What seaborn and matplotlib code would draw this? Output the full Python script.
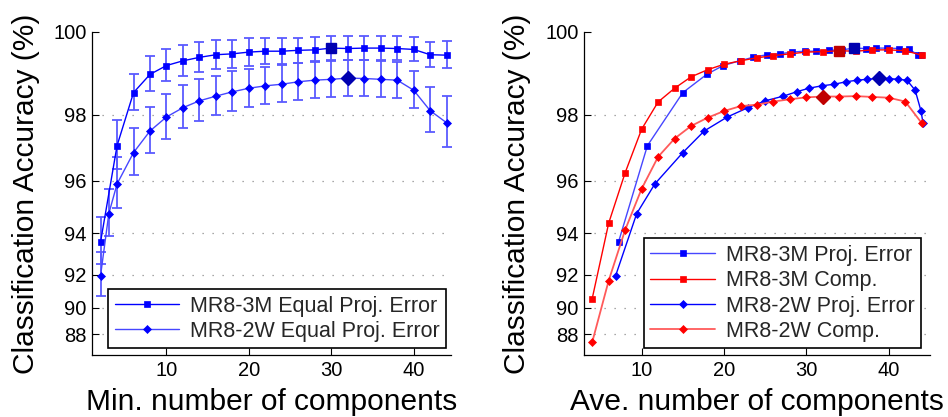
import numpy as np
import pandas as pd
import matplotlib
matplotlib.use("Agg")
import matplotlib.pyplot as plt
import seaborn as sns

# ---------------- data ----------------
# left panel: accuracy vs. minimum number of components (equal projection error)
min_comp_3m = [2, 4, 6, 8, 10, 12, 14, 16, 18, 20, 22, 24, 26, 28, 30, 32, 34, 36, 38, 40, 42, 44]
acc_3m = [93.62, 97.12, 98.58, 99.03, 99.24, 99.35, 99.43, 99.49, 99.51, 99.55, 99.57,
          99.57, 99.59, 99.60, 99.64, 99.63, 99.64, 99.64, 99.63, 99.61, 99.49, 99.48]
err_3m = [1.06, 0.74, 0.46, 0.42, 0.38, 0.36, 0.34, 0.33, 0.32, 0.31, 0.30,
          0.29, 0.28, 0.28, 0.27, 0.27, 0.27, 0.27, 0.27, 0.27, 0.29, 0.31]

min_comp_2w = [2, 3, 4, 6, 8, 10, 12, 14, 16, 18, 20, 22, 24, 26, 28, 30, 32, 34, 36, 38, 40, 42, 44]
acc_2w = [91.96, 94.80, 95.89, 96.91, 97.55, 97.94, 98.19, 98.37, 98.49, 98.60, 98.69, 98.75,
          98.79, 98.85, 98.89, 98.91, 98.94, 98.93, 98.91, 98.89, 98.64, 98.11, 97.78]
err_2w = [1.20, 0.93, 0.89, 0.73, 0.65, 0.61, 0.57, 0.54, 0.51, 0.50, 0.47, 0.46,
          0.46, 0.45, 0.45, 0.44, 0.44, 0.44, 0.44, 0.44, 0.47, 0.60, 0.71]

# right panel: accuracy vs. average number of components
avg_comp_3m_proj = [7.2, 10.7, 15.0, 17.9, 19.9, 21.9, 23.5, 25.2, 26.8, 28.2, 29.8,
                    31.2, 32.8, 34.3, 35.8, 37.2, 38.5, 39.8, 41.2, 42.5, 43.5, 43.95]
avg_comp_2w_proj = [6.85, 9.4, 11.6, 15.0, 17.6, 20.4, 22.9, 25.0, 27.2, 28.8, 30.3, 31.85,
                    33.4, 34.8, 36.2, 37.4, 38.8, 40.0, 41.1, 42.2, 43.2, 43.9, 44.15]
comp_x = [4, 6, 8, 10, 12, 14, 16, 18, 20, 22, 24, 26, 28, 30, 32, 34, 36, 38, 40, 42, 44]
acc_3m_comp = [90.61, 94.42, 96.27, 97.60, 98.34, 98.69, 98.97, 99.14, 99.27, 99.35, 99.42,
               99.47, 99.51, 99.55, 99.56, 99.58, 99.57, 99.60, 99.60, 99.58, 99.48]
acc_2w_comp = [87.28, 91.68, 94.14, 95.72, 96.78, 97.33, 97.69, 97.92, 98.10, 98.23, 98.27,
               98.35, 98.41, 98.46, 98.48, 98.48, 98.49, 98.47, 98.45, 98.35, 97.77]

# highlighted (selected) settings
best_3m_min = 30
best_2w_min = 32
best_3m_comp = 34
best_2w_comp = 32

y_ticks = [88, 90, 92, 94, 96, 98, 100]
x_ticks = [10, 20, 30, 40]

# ---------------- style ----------------
sns.set_theme(style="ticks")
plt.rcParams['font.family'] = ['Liberation Sans', 'DejaVu Sans']

BLUE = '#0000ff'
BLUE_L = '#4646ff'
RED = '#ff0000'
RED_L = '#ff5a5a'
DBLUE = '#0000b0'
DRED = '#c00000'
ERR = '#5a5aff'


def fwd(y):
    return 10.0 ** (np.asarray(y, dtype=float) / 20.0)


def inv(v):
    return 20.0 * np.log10(np.clip(np.asarray(v, dtype=float), 1e-12, None))


fig = plt.figure(figsize=(9.48, 4.17), dpi=100)
axL = fig.add_axes([0.0974, 0.1487, 0.3781, 0.7753])
axR = fig.add_axes([0.6160, 0.1487, 0.3650, 0.7753])

ms_sq = 4.4
ms_d = 4.5
big_sq = 7.4
big_d = 7.2

# ---------- left panel ----------
axL.errorbar(min_comp_3m, acc_3m, yerr=err_3m, fmt='none', ecolor=ERR,
             elinewidth=1.3, capsize=3.8, capthick=1.3, zorder=1)
axL.errorbar(min_comp_2w, acc_2w, yerr=err_2w, fmt='none', ecolor=ERR,
             elinewidth=1.3, capsize=3.8, capthick=1.3, zorder=1)
sns.lineplot(x=min_comp_3m, y=acc_3m, ax=axL, color=BLUE, marker='s', markersize=ms_sq,
             markeredgecolor=BLUE, markeredgewidth=0.5, linewidth=1.0, sort=False,
             errorbar=None, label='MR8-3M Equal Proj. Error', zorder=3)
sns.lineplot(x=min_comp_2w, y=acc_2w, ax=axL, color=BLUE_L, marker='D', markersize=ms_d,
             markerfacecolor=BLUE, markeredgecolor=BLUE, markeredgewidth=0.5, linewidth=1.0,
             sort=False, errorbar=None, label='MR8-2W Equal Proj. Error', zorder=3)
i3 = min_comp_3m.index(best_3m_min)
i2 = min_comp_2w.index(best_2w_min)
axL.plot([min_comp_3m[i3]], [acc_3m[i3]], marker='s', markersize=big_sq, color=DBLUE,
         linestyle='none', zorder=4)
axL.plot([min_comp_2w[i2]], [acc_2w[i2]], marker='D', markersize=big_d, color=DBLUE,
         linestyle='none', zorder=4)
axL.set_xlim(1, 44.5)

# ---------- right panel ----------
sns.lineplot(x=avg_comp_3m_proj, y=acc_3m, ax=axR, color=BLUE_L, marker='s', markersize=ms_sq,
             markerfacecolor=BLUE, markeredgecolor=BLUE, markeredgewidth=0.5, linewidth=1.0,
             sort=False, errorbar=None, label='MR8-3M Proj. Error', zorder=3)
sns.lineplot(x=comp_x, y=acc_3m_comp, ax=axR, color=RED, marker='s', markersize=ms_sq + 0.4,
             markeredgecolor=RED, markeredgewidth=0.5, linewidth=1.0, sort=False,
             errorbar=None, label='MR8-3M Comp.', zorder=3)
sns.lineplot(x=avg_comp_2w_proj, y=acc_2w, ax=axR, color=BLUE, marker='D', markersize=ms_d,
             markeredgecolor=BLUE, markeredgewidth=0.5, linewidth=1.0, sort=False,
             errorbar=None, label='MR8-2W Proj. Error', zorder=3)
sns.lineplot(x=comp_x, y=acc_2w_comp, ax=axR, color=RED_L, marker='D', markersize=ms_d,
             markerfacecolor=RED, markeredgecolor=RED, markeredgewidth=0.5, linewidth=1.3,
             sort=False, errorbar=None, label='MR8-2W Comp.', zorder=3)
j3 = comp_x.index(best_3m_comp)
j2 = comp_x.index(best_2w_comp)
axR.plot([avg_comp_3m_proj[i3]], [acc_3m[i3]], marker='s', markersize=big_sq, color=DBLUE,
         linestyle='none', zorder=4)
axR.plot([comp_x[j3]], [acc_3m_comp[j3]], marker='s', markersize=big_sq, color=DRED,
         linestyle='none', zorder=4)
axR.plot([avg_comp_2w_proj[i2]], [acc_2w[i2]], marker='D', markersize=big_d, color=DBLUE,
         linestyle='none', zorder=4)
axR.plot([comp_x[j2]], [acc_2w_comp[j2]], marker='D', markersize=big_d, color=DRED,
         linestyle='none', zorder=4)
axR.set_xlim(3, 45)

# ---------- common axes styling ----------
for ax, xl in ((axL, 'Min. number of components'), (axR, 'Ave. number of components')):
    ax.set_yscale('function', functions=(fwd, inv))
    ax.set_ylim(86, 100)
    ax.set_yticks(y_ticks)
    ax.set_yticklabels([str(t) for t in y_ticks])
    ax.set_xticks(x_ticks)
    ax.set_xticklabels([str(t) for t in x_ticks])
    ax.minorticks_off()
    ax.tick_params(axis='both', which='major', direction='in', length=5, width=0.8,
                   color='black', labelsize=14.5, labelcolor='black', pad=4,
                   left=True, bottom=True, right=False, top=False)
    for s in ('top', 'right'):
        ax.spines[s].set_visible(False)
    for s in ('left', 'bottom'):
        ax.spines[s].set_color('black')
        ax.spines[s].set_linewidth(0.9)
    ax.yaxis.grid(True, linestyle=(0, (1, 7)), color='#8c8c8c', linewidth=0.9)
    ax.xaxis.grid(False)
    ax.set_axisbelow(True)
    ax.set_xlabel(xl, fontsize=21.5, color='black', labelpad=6)
    ax.set_ylabel('Classification Accuracy (%)', fontsize=21.5, color='black', labelpad=10)
    ax.set_facecolor('white')

for ax in (axL, axR):
    gl = ax.get_ygridlines()
    if len(gl):
        gl[-1].set_visible(False)

legL = axL.legend(loc='lower right', bbox_to_anchor=(0.987, 0.0207), borderaxespad=0,
                  fontsize=15.5, frameon=True, fancybox=False, framealpha=1,
                  edgecolor='black', handlelength=3.0, handletextpad=0.5,
                  borderpad=0.3, labelspacing=0.2, numpoints=1)
legL.get_frame().set_linewidth(1.2)
legR = axR.legend(loc='lower right', bbox_to_anchor=(0.974, 0.0207), borderaxespad=0,
                  fontsize=15.5, frameon=True, fancybox=False, framealpha=1,
                  edgecolor='black', handlelength=3.0, handletextpad=0.5,
                  borderpad=0.3, labelspacing=0.2, numpoints=1)
legR.get_frame().set_linewidth(1.2)

fig.savefig('out.png', dpi=100, facecolor='white')
